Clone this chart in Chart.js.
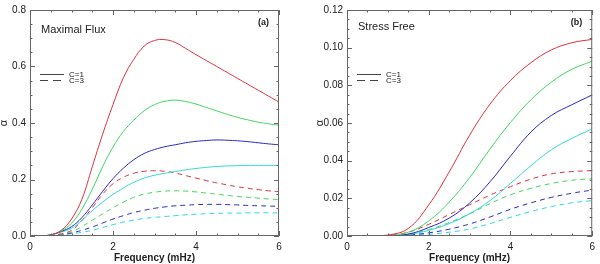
<!DOCTYPE html>
<html>
<head>
<meta charset="utf-8">
<script src="https://cdn.jsdelivr.net/npm/chart.js@4/dist/chart.umd.min.js"></script>
<style>
body{margin:0;background:#fff;width:600px;height:264px;overflow:hidden}
.box{position:absolute;top:0;width:300px;height:264px}
</style>
</head>
<body>
<div class="box" style="left:0"><canvas id="fluxChart" width="300" height="264"></canvas></div>
<div class="box" style="left:300px"><canvas id="stressChart" width="300" height="264"></canvas></div>
<script>
// panel (a): Maximal Flux
const freqA=[0.25,0.5,0.75,1,1.25,1.5,1.75,2,2.25,2.5,2.75,3,3.25,3.5,3.75,4,4.25,4.5,4.75,5,5.25,5.5,5.75,6];
const fluxRed1=[0,0.004,0.02,0.06,0.13,0.245,0.36,0.465,0.56,0.625,0.672,0.692,0.695,0.685,0.664,0.642,0.621,0.6,0.579,0.558,0.537,0.516,0.495,0.474];
const fluxGreen1=[0,0.004,0.018,0.045,0.095,0.165,0.245,0.315,0.37,0.41,0.443,0.465,0.477,0.481,0.476,0.467,0.455,0.443,0.431,0.42,0.411,0.403,0.397,0.392];
const fluxBlue1=[0,0.004,0.016,0.033,0.065,0.11,0.158,0.203,0.24,0.27,0.292,0.306,0.316,0.323,0.33,0.335,0.338,0.34,0.339,0.337,0.334,0.33,0.326,0.323];
const fluxCyan1=[0,0.004,0.014,0.027,0.055,0.09,0.12,0.147,0.17,0.19,0.205,0.215,0.222,0.228,0.234,0.239,0.243,0.246,0.248,0.249,0.25,0.25,0.25,0.25];
const fluxRed3=[0,0.002,0.008,0.02,0.055,0.1,0.148,0.185,0.208,0.222,0.229,0.231,0.229,0.223,0.214,0.205,0.196,0.188,0.181,0.174,0.169,0.164,0.16,0.157];
const fluxGreen3=[0,0.001,0.005,0.015,0.033,0.056,0.078,0.1,0.12,0.137,0.148,0.155,0.159,0.16,0.159,0.156,0.152,0.148,0.144,0.14,0.137,0.134,0.131,0.129];
const fluxBlue3=[0,0.001,0.004,0.011,0.02,0.032,0.046,0.06,0.072,0.083,0.091,0.098,0.103,0.107,0.109,0.111,0.112,0.112,0.111,0.11,0.108,0.107,0.106,0.105];
const fluxCyan3=[0,0.001,0.003,0.008,0.013,0.02,0.03,0.04,0.049,0.056,0.062,0.066,0.069,0.072,0.075,0.077,0.079,0.08,0.081,0.081,0.082,0.082,0.082,0.082];

// panel (b): Stress Free
const freqB=[0,0.5,1,1.5,2,2.5,3,3.5,4,4.5,5,5.5,6];
const stressRed1=[0,0,0.0005,0.004,0.0165,0.034,0.0535,0.07,0.0826,0.092,0.0988,0.1026,0.1044];
const stressGreen1=[0,0,0.0002,0.002,0.008,0.018,0.031,0.0462,0.0603,0.0723,0.0817,0.0885,0.0928];
const stressBlue1=[0,0,0.0001,0.001,0.0045,0.0095,0.0175,0.0288,0.0424,0.0552,0.064,0.0697,0.0749];
const stressCyan1=[0,0,0.0001,0.0008,0.003,0.0066,0.0118,0.0188,0.0279,0.0373,0.0458,0.0518,0.0569];
const stressRed3=[0,0,0.0003,0.002,0.0062,0.0114,0.0166,0.0217,0.0262,0.0302,0.033,0.0342,0.0347];
const stressGreen3=[0,0,0.0002,0.001,0.0034,0.0072,0.0118,0.0172,0.0219,0.0253,0.0279,0.0296,0.0304];
const stressBlue3=[0,0,0.0001,0.0005,0.0017,0.0036,0.0064,0.0101,0.0142,0.0176,0.0205,0.0227,0.0244];
const stressCyan3=[0,0,0,0.0003,0.0009,0.002,0.0037,0.0066,0.0099,0.013,0.0156,0.0176,0.0188];

const xTicks=[0,2,4,6];

const RED="#e0303c",GREEN="#3cd860",BLUE="#2828c8",CYAN="#30d8d8";
const DASH=[5,4];
const FONT="'Liberation Sans', Arial, sans-serif";

function line(xs,ys,color,dashed){
return {
data:xs.map((x,i)=>({x:x,y:ys[i]})),
borderColor:color,
borderWidth:1,
borderDash:dashed?DASH:[],
pointRadius:0,
fill:false,
tension:0.4
};
}

// frame, inward ticks on all sides, labels and the little line-style key
const frame={
id:"frame",
afterDraw(chart,args,o){
const c=chart.ctx,a=chart.chartArea,sx=chart.scales.x,sy=chart.scales.y;
c.save();
c.strokeStyle="#666";
c.lineWidth=1;
c.strokeRect(a.left+0.5,a.top+0.5,a.right-a.left-1,a.bottom-a.top-1);

c.beginPath();
for(let v=0;v<=6+1e-9;v+=0.5){
const p=Math.round(sx.getPixelForValue(v))+0.5;
const len=Math.abs(v/2-Math.round(v/2))<1e-6?5:2.5;
c.moveTo(p,a.bottom);c.lineTo(p,a.bottom-len);
c.moveTo(p,a.top);c.lineTo(p,a.top+len);
}
const n=Math.round(o.yMax/o.yMinor);
for(let i=0;i<=n;i++){
const v=i*o.yMinor;
const p=Math.round(sy.getPixelForValue(v))+0.5;
const len=i%4===0?5:2.5;
c.moveTo(a.left,p);c.lineTo(a.left+len,p);
c.moveTo(a.right,p);c.lineTo(a.right-len,p);
}
c.stroke();

c.fillStyle="#222";
c.textBaseline="middle";
c.font="11px "+FONT;
c.fillText(o.title,a.left+o.titleDx,a.top+o.titleDy);
c.font="bold 9px "+FONT;
c.textAlign="right";
c.fillText(o.tag,a.right-10,a.top+13);
c.textAlign="left";

const lx=a.left+10,ly=a.top+64;
c.strokeStyle="#444";
c.beginPath();
c.moveTo(lx,ly+0.5);c.lineTo(lx+24,ly+0.5);
c.stroke();
c.setLineDash([8,5]);
c.beginPath();
c.moveTo(lx,ly+6.5);c.lineTo(lx+24,ly+6.5);
c.stroke();
c.setLineDash([]);
c.font="8px "+FONT;
c.fillText("C=1",lx+29,ly+0.5);
c.fillText("C=3",lx+29,ly+6.5);
c.restore();
}
};

function options(yMax,yStep,digits,yWidth,padRight,titlePad,fr){
return {
responsive:false,
animation:false,
layout:{padding:{top:2,right:padRight,left:0,bottom:0}},
plugins:{legend:{display:false},tooltip:{enabled:false},frame:fr},
scales:{
x:{
type:"linear",min:0,max:6,
afterFit(s){s.height=28;},
afterBuildTicks(s){s.ticks=xTicks.map(v=>({value:v}));},
grid:{display:false,drawTicks:false},
border:{display:false},
ticks:{padding:5,color:"#222",maxRotation:0,font:{family:FONT,size:10}},
title:{display:true,text:"Frequency (mHz)",color:"#222",padding:0,font:{family:FONT,size:10,weight:"bold"}}
},
y:{
min:0,max:yMax,
afterFit(s){s.width=yWidth;},
grid:{display:false,drawTicks:false},
border:{display:false},
ticks:{stepSize:yStep,padding:4,color:"#222",font:{family:FONT,size:10},callback:v=>Number(v).toFixed(digits)},
title:{display:true,text:"α",color:"#222",padding:{top:titlePad,bottom:0},font:{family:FONT,size:11,lineHeight:0.8}}
}
}
};
}

new Chart(document.getElementById("fluxChart"),{
type:"line",
data:{datasets:[
line(freqA,fluxRed1,RED,false),
line(freqA,fluxGreen1,GREEN,false),
line(freqA,fluxBlue1,BLUE,false),
line(freqA,fluxCyan1,CYAN,false),
line(freqA,fluxRed3,RED,true),
line(freqA,fluxGreen3,GREEN,true),
line(freqA,fluxBlue3,BLUE,true),
line(freqA,fluxCyan3,CYAN,true)
]},
options:options(0.8,0.2,1,30,21,0,{title:"Maximal Flux",titleDx:11,titleDy:20,tag:"(a)",yMax:0.8,yMinor:0.05}),
plugins:[frame]
});

new Chart(document.getElementById("stressChart"),{
type:"line",
data:{datasets:[
line(freqB,stressRed1,RED,false),
line(freqB,stressGreen1,GREEN,false),
line(freqB,stressBlue1,BLUE,false),
line(freqB,stressCyan1,CYAN,false),
line(freqB,stressRed3,RED,true),
line(freqB,stressGreen3,GREEN,true),
line(freqB,stressBlue3,BLUE,true),
line(freqB,stressCyan3,CYAN,true)
]},
options:options(0.12,0.02,2,47,4,16,{title:"Stress Free",titleDx:11,titleDy:17,tag:"(b)",yMax:0.12,yMinor:0.005}),
plugins:[frame]
});
</script>
</body>
</html>
